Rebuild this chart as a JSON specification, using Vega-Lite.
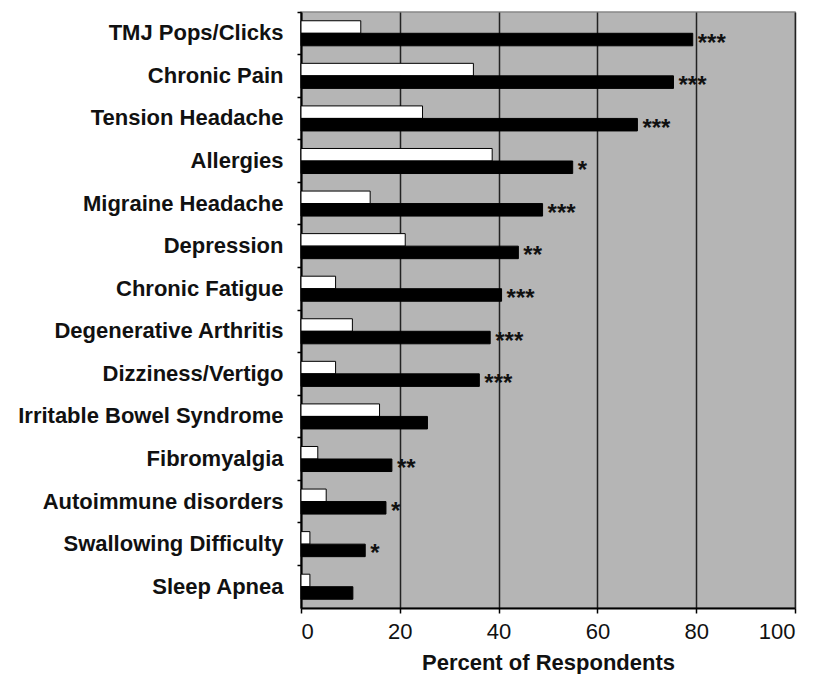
{
  "$schema": "https://vega.github.io/schema/vega-lite/v6.json",
  "width": 494,
  "height": 596,
  "padding": {"left": 17, "top": 11, "right": 5, "bottom": 5},
  "background": "white",
  "config": {
    "view": {"fill": "#b5b5b5", "stroke": "#888888", "strokeWidth": 1.5},
    "font": "Liberation Sans"
  },
  "data": {
    "values": [
      {"condition": "TMJ Pops/Clicks", "group": "a", "pct": 12.1, "sig": ""},
      {"condition": "TMJ Pops/Clicks", "group": "b", "pct": 79.3, "sig": "***"},
      {"condition": "Chronic Pain", "group": "a", "pct": 34.9, "sig": ""},
      {"condition": "Chronic Pain", "group": "b", "pct": 75.4, "sig": "***"},
      {"condition": "Tension Headache", "group": "a", "pct": 24.6, "sig": ""},
      {"condition": "Tension Headache", "group": "b", "pct": 68.1, "sig": "***"},
      {"condition": "Allergies", "group": "a", "pct": 38.7, "sig": ""},
      {"condition": "Allergies", "group": "b", "pct": 55.0, "sig": "*"},
      {"condition": "Migraine Headache", "group": "a", "pct": 14.0, "sig": ""},
      {"condition": "Migraine Headache", "group": "b", "pct": 48.9, "sig": "***"},
      {"condition": "Depression", "group": "a", "pct": 21.1, "sig": ""},
      {"condition": "Depression", "group": "b", "pct": 44.0, "sig": "**"},
      {"condition": "Chronic Fatigue", "group": "a", "pct": 7.0, "sig": ""},
      {"condition": "Chronic Fatigue", "group": "b", "pct": 40.6, "sig": "***"},
      {"condition": "Degenerative Arthritis", "group": "a", "pct": 10.4, "sig": ""},
      {"condition": "Degenerative Arthritis", "group": "b", "pct": 38.3, "sig": "***"},
      {"condition": "Dizziness/Vertigo", "group": "a", "pct": 7.0, "sig": ""},
      {"condition": "Dizziness/Vertigo", "group": "b", "pct": 36.1, "sig": "***"},
      {"condition": "Irritable Bowel Syndrome", "group": "a", "pct": 15.9, "sig": ""},
      {"condition": "Irritable Bowel Syndrome", "group": "b", "pct": 25.6, "sig": ""},
      {"condition": "Fibromyalgia", "group": "a", "pct": 3.4, "sig": ""},
      {"condition": "Fibromyalgia", "group": "b", "pct": 18.4, "sig": "**"},
      {"condition": "Autoimmune disorders", "group": "a", "pct": 5.1, "sig": ""},
      {"condition": "Autoimmune disorders", "group": "b", "pct": 17.2, "sig": "*"},
      {"condition": "Swallowing Difficulty", "group": "a", "pct": 1.8, "sig": ""},
      {"condition": "Swallowing Difficulty", "group": "b", "pct": 13.0, "sig": "*"},
      {"condition": "Sleep Apnea", "group": "a", "pct": 1.8, "sig": ""},
      {"condition": "Sleep Apnea", "group": "b", "pct": 10.5, "sig": ""}
    ]
  },
  "encoding": {
    "y": {
      "field": "condition",
      "type": "nominal",
      "sort": null,
      "scale": {"paddingInner": 0, "paddingOuter": 0},
      "axis": {
        "title": null,
        "bandPosition": 0,
        "labelFontSize": 22,
        "labelFontWeight": "bold",
        "labelColor": "#111111",
        "labelPadding": 14,
        "labelBound": false,
        "tickColor": "black",
        "tickSize": 4,
        "tickWidth": 1.5,
        "domainColor": "black",
        "domainWidth": 2,
        "labelLimit": 400
      }
    },
    "yOffset": {
      "field": "group",
      "type": "nominal",
      "scale": {"paddingInner": 0, "paddingOuter": 0.7}
    }
  },
  "layer": [
    {
      "mark": {"type": "bar", "stroke": "black", "strokeWidth": 1},
      "encoding": {
        "x": {
          "field": "pct",
          "type": "quantitative",
          "scale": {"domain": [0, 100], "nice": false},
          "axis": {
            "title": "Percent of Respondents",
            "titleFontSize": 22,
            "titleFontWeight": "bold",
            "titleColor": "#111111",
            "titlePadding": 10,
            "values": [0, 20, 40, 60, 80, 100],
            "labelFontSize": 22,
            "labelFontWeight": "normal",
            "labelColor": "#111111",
            "labelPadding": 8,
            "tickColor": "black",
            "tickSize": 5,
            "tickWidth": 1.5,
            "domainColor": "black",
            "domainWidth": 2,
            "grid": true,
            "gridColor": "#222222",
            "gridWidth": 1.5,
            "gridOpacity": 1
          }
        },
        "color": {
          "field": "group",
          "type": "nominal",
          "scale": {"domain": ["a", "b"], "range": ["white", "black"]},
          "legend": null
        }
      }
    },
    {
      "transform": [{"filter": "datum.sig != ''"}],
      "mark": {"type": "text", "align": "left", "baseline": "middle", "dx": 5, "dy": 4, "fontSize": 24, "fontWeight": "bold", "color": "#111111"},
      "encoding": {
        "x": {"field": "pct", "type": "quantitative"},
        "text": {"field": "sig"}
      }
    }
  ]
}
